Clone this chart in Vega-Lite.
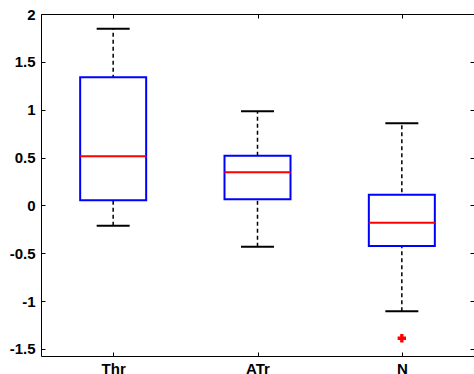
{
  "$schema": "https://vega.github.io/schema/vega-lite/v6.json",
  "autosize": "none",
  "width": 433,
  "height": 342,
  "padding": {"left": 41, "top": 14, "right": 0, "bottom": 18},
  "background": "white",
  "config": {
    "view": {"stroke": "black", "strokeWidth": 1},
    "axis": {
      "grid": false,
      "domain": false,
      "tickColor": "black",
      "tickSize": -4,
      "labelColor": "black",
      "labelFont": "Liberation Sans",
      "labelFontWeight": "bold",
      "labelFontSize": 15,
      "title": null
    }
  },
  "datasets": {
    "boxes": [
      {"cat": "Thr", "lo": -0.212, "q1": 0.053, "med": 0.513, "q3": 1.338, "hi": 1.846},
      {"cat": "ATr", "lo": -0.431, "q1": 0.064, "med": 0.346, "q3": 0.519, "hi": 0.983},
      {"cat": "N", "lo": -1.107, "q1": -0.424, "med": -0.181, "q3": 0.112, "hi": 0.858}
    ],
    "outliers": [
      {"cat": "N", "v": -1.389}
    ]
  },
  "resolve": {"axis": {"x": "independent", "y": "independent"}},
  "layer": [
    {
      "data": {"name": "boxes"},
      "layer": [
        {
          "mark": {"type": "rule", "color": "black", "strokeWidth": 1.5, "strokeDash": [4, 3]},
          "encoding": {
            "y": {"field": "lo", "type": "quantitative"},
            "y2": {"field": "hi"}
          }
        },
        {
          "mark": {"type": "bar", "size": 66, "fill": "white", "stroke": "#0000ff", "strokeWidth": 2},
          "encoding": {
            "y": {"field": "q1", "type": "quantitative"},
            "y2": {"field": "q3"}
          }
        },
        {
          "mark": {"type": "tick", "size": 66, "thickness": 2, "color": "#ff0000", "opacity": 1},
          "encoding": {
            "y": {"field": "med", "type": "quantitative"}
          }
        },
        {
          "mark": {"type": "tick", "size": 33, "thickness": 2, "color": "black", "opacity": 1},
          "encoding": {
            "y": {"field": "hi", "type": "quantitative"}
          }
        },
        {
          "mark": {"type": "tick", "size": 33, "thickness": 2, "color": "black", "opacity": 1},
          "encoding": {
            "y": {"field": "lo", "type": "quantitative"}
          }
        }
      ],
      "encoding": {
        "x": {
          "field": "cat",
          "type": "nominal",
          "sort": ["Thr", "ATr", "N"],
          "scale": {"type": "point", "padding": 0.5, "domain": ["Thr", "ATr", "N"]},
          "axis": {"orient": "bottom", "labelAngle": 0, "labelPadding": 9}
        },
        "y": {
          "type": "quantitative",
          "scale": {"domain": [-1.574, 2], "nice": false, "zero": false},
          "axis": {"orient": "left", "values": [-1.5, -1, -0.5, 0, 0.5, 1, 1.5, 2], "labelPadding": 10, "labelFlush": false, "labelExpr": "'' + datum.value"}
        }
      }
    },
    {
      "data": {"name": "outliers"},
      "mark": {"type": "point", "shape": "cross", "filled": true, "color": "#ff0000", "size": 70, "opacity": 1},
      "encoding": {
        "x": {
          "field": "cat",
          "type": "nominal",
          "scale": {"type": "point", "padding": 0.5, "domain": ["Thr", "ATr", "N"]},
          "axis": {"orient": "top", "labels": false}
        },
        "y": {
          "field": "v",
          "type": "quantitative",
          "scale": {"domain": [-1.574, 2], "nice": false, "zero": false},
          "axis": {"orient": "right", "labels": false, "values": [-1.5, -1, -0.5, 0, 0.5, 1, 1.5, 2]}
        }
      }
    }
  ]
}
